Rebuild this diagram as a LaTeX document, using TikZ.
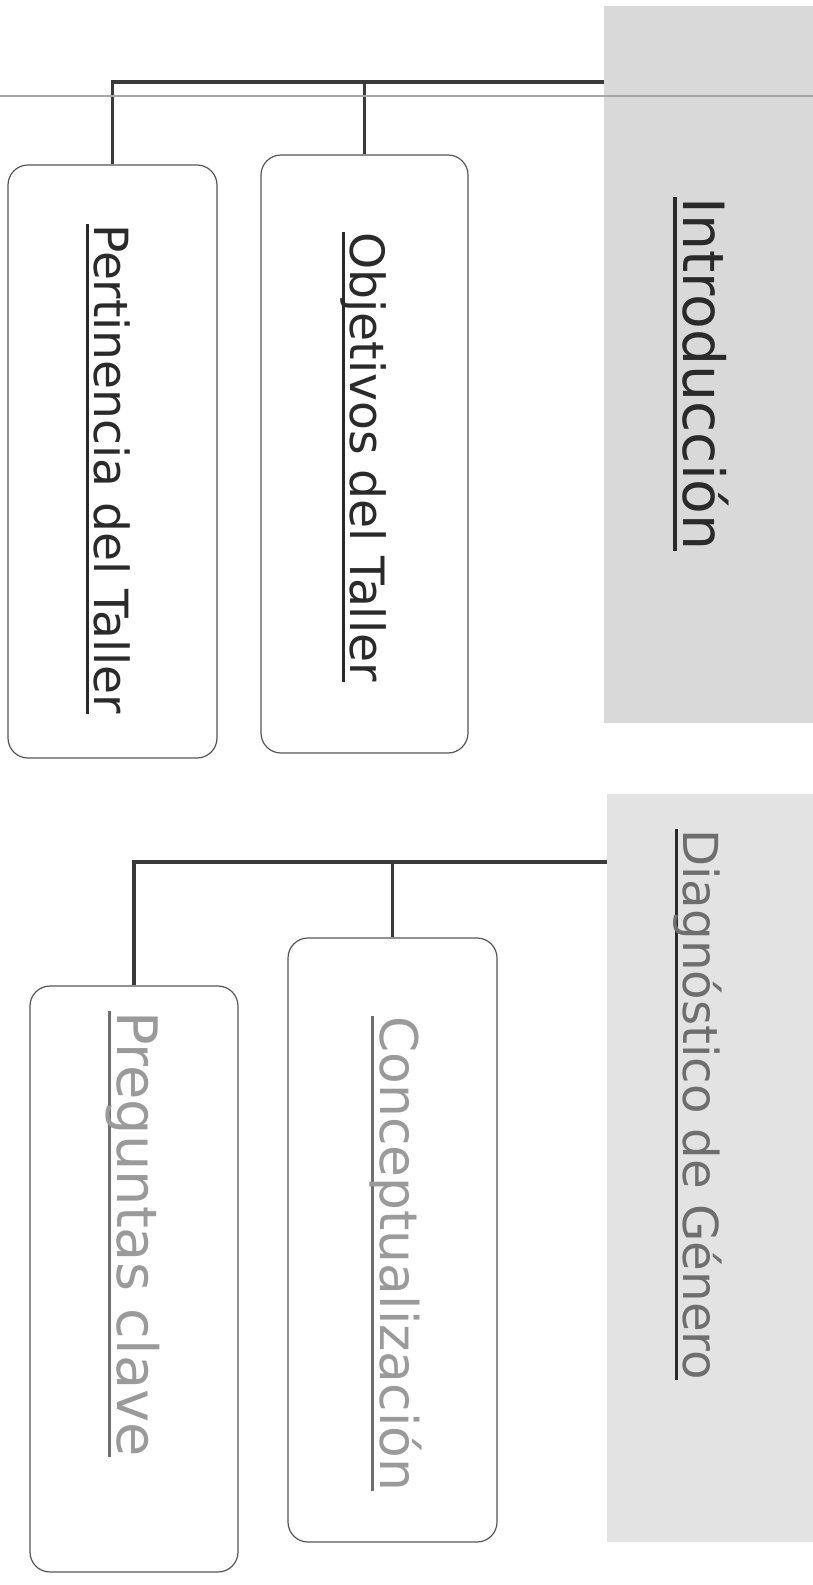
\documentclass[tikz,border=0pt]{standalone}
\usepackage{fontspec}
\setmainfont{DejaVu Sans}
\usetikzlibrary{fit}
\newcommand\ulx[2][.]{\setbox0\hbox{#2}\rlap{\color{#1}\rule[-0.17em]{\wd0}{0.06em}}\box0}
\definecolor{panelA}{HTML}{D9D9D9}
\definecolor{panelB}{HTML}{E3E3E3}
\definecolor{inkdark}{HTML}{2A2A2A}
\definecolor{inkmid}{HTML}{6E6E6E}
\definecolor{inklight}{HTML}{9A9A9A}
\definecolor{linedark}{HTML}{3A3A3A}
\definecolor{boxline}{HTML}{555555}
\begin{document}
\begin{tikzpicture}[x=0.75pt,y=-0.75pt,
  panel/.style={fill=#1, draw=none, inner sep=0pt},
  box/.style={draw=boxline, line width=0.9pt, rounded corners=15pt, inner sep=0pt},
  txt/.style={inner sep=0pt, rotate=-90, anchor=base west, font=\fontsize{30}{36}\selectfont},
  conn/.style={draw=linedark, line width=2.5pt},
  pageline/.style={draw=gray!70, line width=1.1pt}]
\useasboundingbox (0,0) rectangle (813,1585);
\fill[white] (0,0) rectangle (813,1585);
% gray panels
\node[panel=panelA, fit={(604,6) (813,723)}] (p1) {};
\node[panel=panelB, fit={(607,794) (813,1542)}] (p2) {};
% titles
\node[txt, text=inkdark] (intro) at (683,197) {\resizebox{265pt}{!}{\ulx{Introducción}}};
\node[txt, text=inkmid] (diag) at (683,829) {\resizebox{413pt}{!}{\ulx[inkdark]{Diagnóstico de Género}}};
% boxes group 1
\node[box, fit={(261,155) (468,753)}] (b1) {};
\node[box, fit={(8,165) (217,758)}] (b2) {};
\node[txt, text=inkdark] (t1) at (350,232) {\resizebox{337pt}{!}{\ulx{Objetivos del Taller}}};
\node[txt, text=inkdark] (t2) at (94,224) {\resizebox{367pt}{!}{\ulx{Pertinencia del Taller}}};
% boxes group 2
\node[box, fit={(288,938) (497,1542)}] (b3) {};
\node[box, fit={(30,986) (238,1572)}] (b4) {};
\node[txt, text=inklight] (t3) at (380,1016) {\resizebox{356pt}{!}{\ulx[inkmid]{Conceptualización}}};
\node[txt, text=inklight] (t4) at (117,1011) {\resizebox{334pt}{!}{\ulx[inkmid]{Preguntas clave}}};
% connectors
\coordinate (h1) at (p1.west |- 0,82);
\coordinate (h2) at (p2.west |- 0,862);
\draw[conn] (h1) -| (b2.north);
\draw[conn] (h1 -| b1.north) -- (b1.north);
\draw[conn] (h2) -| (b4.north);
\draw[conn] (h2 -| b3.north) -- (b3.north);
% page edge line
\draw[pageline] (0,96) -- (813,96);
\end{tikzpicture}
\end{document}
